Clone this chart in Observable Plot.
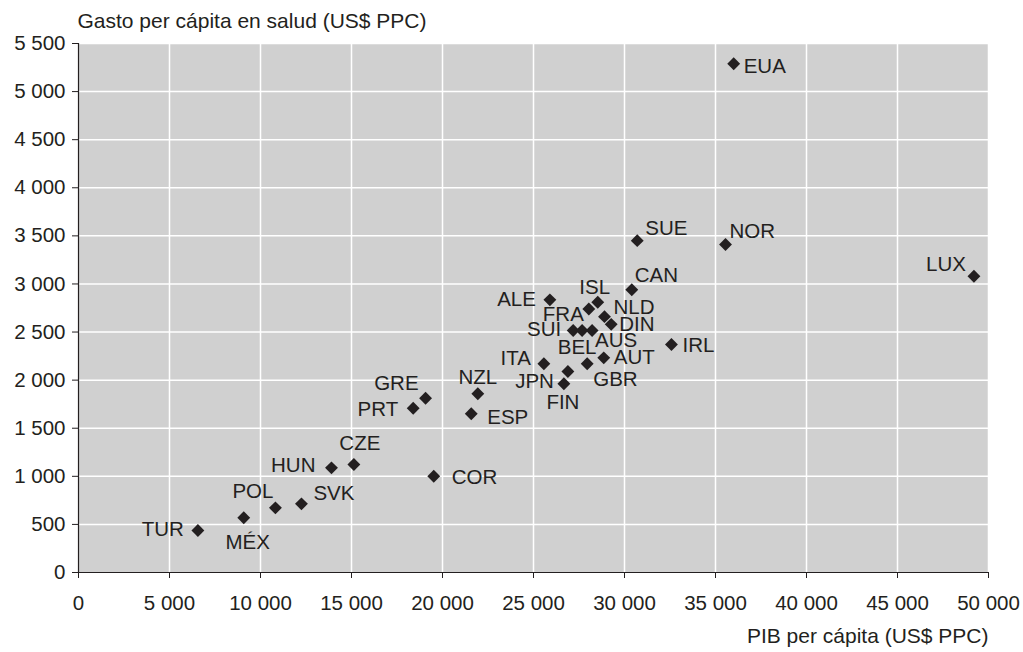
<!DOCTYPE html>
<html>
<head>
<meta charset="utf-8">
<script src="https://cdn.jsdelivr.net/npm/d3@7"></script>
<script src="https://cdn.jsdelivr.net/npm/@observablehq/plot@0.6"></script>
<style>
  html, body { margin: 0; padding: 0; background: #ffffff; }
  #chart svg { display: block; }
</style>
</head>
<body>
<div id="chart"></div>
<script>
// ---- Data ----
const countries = ["EUA","SUE","NOR","LUX","CAN","ALE","ISL","FRA","NLD","DIN","SUI","BEL","AUS","IRL","AUT","ITA","GBR","JPN","FIN","NZL","GRE","PRT","ESP","CZE","HUN","COR","SVK","POL","MÉX","TUR"];
const pibPerCapita = [36000,30700,35550,49200,30400,25900,28530,28040,28900,29270,27180,27670,28220,32580,28860,25570,27950,26890,26670,21940,19070,18390,21580,15130,13900,19520,12250,10820,9080,6560];
const gastoSalud = [5290,3450,3410,3080,2940,2835,2810,2740,2660,2580,2516,2516,2516,2370,2232,2170,2170,2090,1962,1858,1812,1708,1650,1123,1088,1001,714,672,569,437];
const xTicks = [0,5000,10000,15000,20000,25000,30000,35000,40000,45000,50000];
const yTicks = [0,500,1000,1500,2000,2500,3000,3500,4000,4500,5000,5500];
const yTitle = "Gasto per cápita en salud (US$ PPC)";
const xTitle = "PIB per cápita (US$ PPC)";

// ---- Label placement (anchor, dx, dy) ----
const labelPlacement = {
  EUA:["start",10,3], SUE:["start",8,-12], NOR:["start",4,-13], LUX:["end",-8,-12],
  CAN:["start",3,-14], ALE:["end",-14,0], ISL:["middle",-3,-15], FRA:["end",-5,5],
  NLD:["start",9,-9], DIN:["start",8,0], SUI:["end",-12,-1], BEL:["middle",-5,17],
  AUS:["start",3,10], IRL:["start",11,1], AUT:["start",10,0], ITA:["end",-13,-5],
  GBR:["start",6,16], JPN:["end",-14,10], FIN:["middle",-1,19], NZL:["middle",0,-16],
  GRE:["end",-7,-15], PRT:["end",-15,1], ESP:["start",16,4], CZE:["middle",6,-21],
  HUN:["end",-16,-2], COR:["start",18,1], SVK:["start",12,-10], POL:["end",-2,-16],
  "MÉX":["middle",4,25], TUR:["end",-14,-1]
};

const data = countries.map((c, i) => ({country: c, pib: pibPerCapita[i], gasto: gastoSalud[i]}));
const fmt = d3.formatLocale({thousands: " ", grouping: [3], decimal: ","}).format(",");

const ink = "#231f20";
const font = "'Liberation Sans', Arial, Helvetica, sans-serif";

const labelMarks = data.map(d => {
  const [anchor, dx, dy] = labelPlacement[d.country];
  return Plot.text([d], {x: "pib", y: "gasto", text: "country", textAnchor: anchor, dx, dy,
    fill: ink, fontSize: 20.5});
});

const chart = Plot.plot({
  width: 1023,
  height: 652,
  marginLeft: 78,
  marginRight: 35,
  marginTop: 43,
  marginBottom: 80,
  style: {fontFamily: font, color: ink, background: "white"},
  x: {domain: [0, 50000]},
  y: {domain: [0, 5500]},
  marks: [
    Plot.frame({fill: "#d0d0d0", stroke: null}),
    Plot.gridX(xTicks.filter(t => t > 0), {stroke: "white", strokeOpacity: 1, strokeWidth: 1.5}),
    Plot.gridY(yTicks.filter(t => t > 0), {stroke: "white", strokeOpacity: 1, strokeWidth: 1.5}),
    Plot.axisX(xTicks, {tickFormat: fmt, tickSize: 6, tickPadding: 17, fontSize: 20.5, label: null, stroke: ink, fill: ink}),
    Plot.axisY(yTicks, {tickFormat: fmt, tickSize: 6, tickPadding: 7, fontSize: 20.5, label: null, stroke: ink, fill: ink}),
    Plot.ruleX([0], {stroke: ink, strokeWidth: 1.2}),
    Plot.ruleY([0], {stroke: ink, strokeWidth: 1.2}),
    Plot.dot(data, {x: "pib", y: "gasto", symbol: "diamond2", r: 5.8, fill: ink, stroke: null}),
    ...labelMarks,
    Plot.text([yTitle], {frameAnchor: "top-left", textAnchor: "start", lineAnchor: "middle", dy: -22, dx: -1, fontSize: 21, fill: ink}),
    Plot.text([xTitle], {frameAnchor: "bottom-right", textAnchor: "end", lineAnchor: "middle", dy: 64, dx: 0, fontSize: 21, fill: ink})
  ]
});
document.getElementById("chart").appendChild(chart);
</script>
</body>
</html>
